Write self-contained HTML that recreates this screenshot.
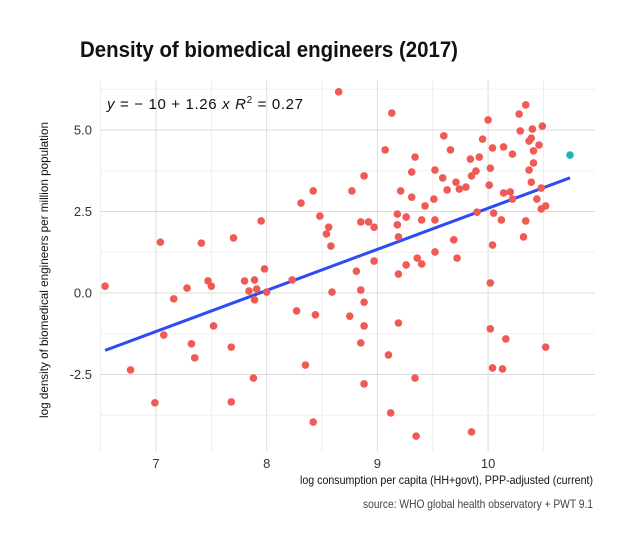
<!DOCTYPE html>
<html><head><meta charset="utf-8"><style>
body{margin:0;background:#fff;}
svg{display:block;font-family:"Liberation Sans",sans-serif;}
</style></head><body>
<svg id="chart" width="633" height="550">
<text x="80" y="57" font-size="22" font-weight="bold" fill="#111" textLength="378" lengthAdjust="spacingAndGlyphs">Density of biomedical engineers (2017)</text>
<g id="grid"></g>
<g id="axes"></g>
<g id="line"></g>
<g id="pts"></g>
<text x="107" y="109" font-size="15" fill="#111" textLength="196" lengthAdjust="spacing"><tspan font-style="italic">y</tspan> = − 10 + 1.26 <tspan font-style="italic">x</tspan>    <tspan font-style="italic">R</tspan><tspan font-size="10" dy="-6">2</tspan><tspan dy="6"> = 0.27</tspan></text>
<text transform="translate(48,270) rotate(-90)" text-anchor="middle" font-size="12" fill="#111" textLength="296" lengthAdjust="spacingAndGlyphs">log density of biomedical engineers per million population</text>
<text x="593" y="484" text-anchor="end" font-size="12" fill="#111" textLength="293" lengthAdjust="spacingAndGlyphs">log consumption per capita (HH+govt), PPP-adjusted (current)</text>
<text x="593" y="508" text-anchor="end" font-size="12" fill="#444" textLength="230" lengthAdjust="spacingAndGlyphs">source: WHO global health observatory + PWT 9.1</text>
</svg>
<script>
const xVals=[6.54,6.77,6.99,7.04,7.07,7.16,7.28,7.32,7.35,7.41,7.47,7.50,7.52,7.68,7.68,7.70,7.80,7.84,7.89,7.89,7.88,7.91,7.95,7.98,8.0,8.23,8.27,8.31,8.35,8.42,8.44,8.42,8.48,8.54,8.56,8.58,8.59,8.65,8.75,8.77,8.81,8.85,8.85,8.85,8.88,8.88,8.88,8.88,8.92,8.97,8.97,9.13,9.07,9.21,9.18,9.18,9.19,9.26,9.19,9.26,9.19,9.10,9.12,9.35,9.34,9.36,9.40,9.34,9.31,9.31,9.43,9.40,9.52,9.51,9.52,9.52,9.60,9.59,9.66,9.63,9.71,9.74,9.80,9.69,9.72,9.84,9.85,9.89,9.92,9.95,9.90,10.0,10.04,10.02,10.01,10.05,10.04,10.02,10.02,10.16,10.04,10.13,9.85,10.14,10.22,10.14,10.20,10.22,10.12,10.28,10.34,10.29,10.40,10.49,10.37,10.39,10.46,10.41,10.41,10.37,10.39,10.48,10.44,10.52,10.48,10.34,10.32,10.52,10.74];
const yVals=[0.21,-2.36,-3.37,1.56,-1.29,-0.18,0.15,-1.56,-1.99,1.53,0.37,0.21,-1.01,-1.66,-3.34,1.69,0.37,0.06,-0.21,0.40,-2.61,0.12,2.21,0.74,0.03,0.40,-0.55,2.76,-2.21,3.13,-0.67,-3.96,2.36,1.81,2.02,1.44,0.03,6.17,-0.71,3.13,0.67,2.18,0.09,-1.53,-0.28,3.59,-1.01,-2.79,2.18,2.02,0.98,5.52,4.39,3.13,2.42,2.09,1.72,2.33,0.58,0.86,-0.92,-1.90,-3.68,-4.39,-2.61,1.07,0.89,4.17,3.71,2.94,2.67,2.24,3.77,2.88,2.24,1.26,4.82,3.53,4.39,3.16,3.40,3.19,3.25,1.63,1.07,4.11,3.59,3.74,4.17,4.72,2.48,5.31,4.45,3.83,3.31,2.45,1.47,0.31,-1.10,-1.41,-2.30,-2.33,-4.26,4.48,4.26,3.07,3.10,2.88,2.24,5.49,5.77,4.97,5.03,5.12,4.66,4.75,4.54,4.36,3.99,3.77,3.40,3.22,2.88,2.67,2.58,2.21,1.72,-1.66,4.23];
const highlightIdx=[xVals.length-1];
const xTicks=[7,8,9,10];
const yTicks=[-2.5,0,2.5,5];
const yTickLabels=["-2.5","0.0","2.5","5.0"];
const fitIntercept=-10.0, fitSlope=1.26;
const X=v=>156+(v-7)*110.7, Y=v=>293-v*32.6;
const NS="http://www.w3.org/2000/svg";
function mk(p,t,a){const e=document.createElementNS(NS,t);for(const k in a)e.setAttribute(k,a[k]);p.appendChild(e);return e;}
const grid=document.getElementById('grid'),axes=document.getElementById('axes');
const L=100,R=595,T=80,B=452;
for(let v=6.5;v<=10.6;v+=0.5){const major=Number.isInteger(v);
 const g=mk(grid,'line',{x1:X(v),x2:X(v),y1:T,y2:B,stroke:major?'#dcdcdc':'#ececec','stroke-width':major?1:0.8});
 
 }
for(let v=-3.75;v<=6.3;v+=1.25){const major=Math.abs(v/2.5-Math.round(v/2.5))<1e-6;
 const g=mk(grid,'line',{x1:L,x2:R,y1:Y(v),y2:Y(v),stroke:major?'#dcdcdc':'#ececec','stroke-width':major?1:0.8});
 
 }
xTicks.forEach(v=>{const t=mk(axes,'text',{x:X(v),y:468,'text-anchor':'middle','font-size':13,fill:'#333'});t.textContent=v;
 
 });
yTicks.forEach((v,i)=>{const t=mk(axes,'text',{x:92,y:Y(v)+4.5,'text-anchor':'end','font-size':13,fill:'#333'});t.textContent=yTickLabels[i];
 
 });
const x0=Math.min(...xVals),x1=Math.max(...xVals);
const ln=mk(document.getElementById('line'),'line',{x1:X(x0),y1:Y(fitIntercept+fitSlope*x0),x2:X(x1),y2:Y(fitIntercept+fitSlope*x1),stroke:'#2c4cf5','stroke-width':3});


const pts=document.getElementById('pts');
xVals.forEach((x,i)=>{const hi=highlightIdx.includes(i);
 const c=mk(pts,'circle',{cx:X(x),cy:Y(yVals[i]),r:3.8,fill:hi?'#1fb5b5':'#f05a55'});
 
 });
</script>
</body></html>
